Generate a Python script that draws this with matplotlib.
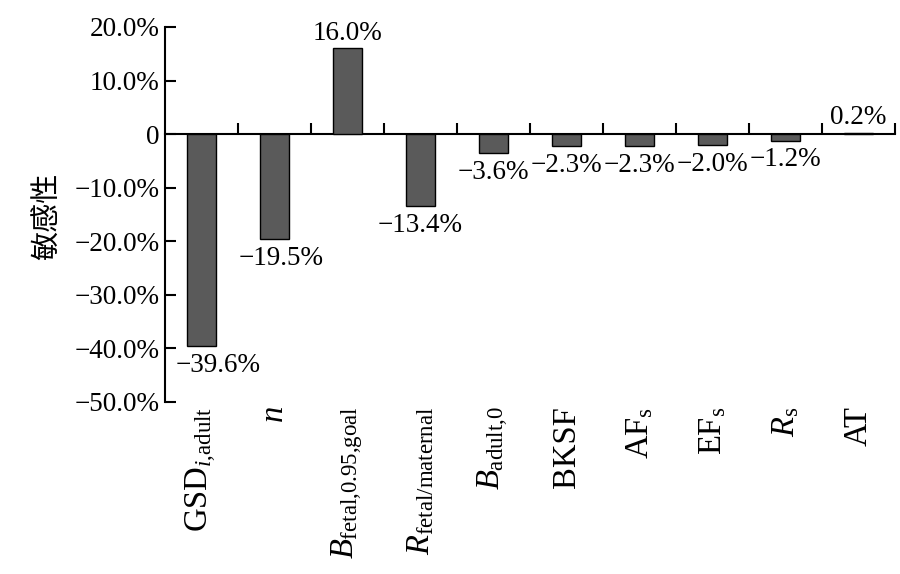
import matplotlib
matplotlib.use("Agg")
import matplotlib.pyplot as plt
from matplotlib.ticker import FixedLocator, FixedFormatter

categories = [r'$\mathrm{GSD}_{i{,}\mathrm{adult}}$', r'$n$', r'$B_{\mathrm{fetal{,}0.95{,}goal}}$',
              r'$R_{\mathrm{fetal/maternal}}$', r'$B_{\mathrm{adult{,}0}}$', 'BKSF',
              r'$\mathrm{AF}_{\mathrm{s}}$', r'$\mathrm{EF}_{\mathrm{s}}$', r'$R_{\mathrm{s}}$', 'AT']
values = [-39.6, -19.5, 16.0, -13.4, -3.6, -2.3, -2.3, -2.0, -1.2, 0.2]
yticks = [20, 10, 0, -10, -20, -30, -40, -50]
ytick_labels = ['20.0%', '10.0%', '0', '\u221210.0%', '\u221220.0%', '\u221230.0%', '\u221240.0%', '\u221250.0%']
ylabel = '敏感性'

plt.rcParams['font.family'] = ['Liberation Serif', 'DejaVu Serif']
plt.rcParams['mathtext.fontset'] = 'custom'
plt.rcParams['mathtext.rm'] = 'Liberation Serif'
plt.rcParams['mathtext.it'] = 'Liberation Serif:italic'
plt.rcParams['mathtext.bf'] = 'Liberation Serif:bold'

fig = plt.figure(figsize=(9, 5.74), dpi=100)
ax = fig.add_axes([0.1833, 0.2997, 0.8111, 0.6533])

x = list(range(len(values)))
ax.bar(x, values, width=0.4, color='#5a5a5a', edgecolor='black', linewidth=1.0, zorder=3)

ax.set_xlim(-0.5, len(values) - 0.5)
ax.set_ylim(-50, 20)

for s in ['top', 'right']:
    ax.spines[s].set_visible(False)
ax.spines['bottom'].set_position(('data', 0))
ax.spines['left'].set_linewidth(1.5)
ax.spines['bottom'].set_linewidth(1.5)

ax.yaxis.set_major_locator(FixedLocator(yticks))
ax.yaxis.set_major_formatter(FixedFormatter(ytick_labels))
ax.tick_params(axis='y', direction='in', length=8, width=1.5, pad=4, labelsize=19.5)
ax.xaxis.set_major_locator(FixedLocator([i + 0.5 for i in x]))
ax.tick_params(axis='x', direction='in', length=8, width=1.5, labelbottom=False)

# small horizontal nudges (points) for the first labels, as in the original
label_dx = {0: 12, 1: 4.5}
for xi, v in zip(x, values):
    txt = (f'{v:.1f}%').replace('-', '\u2212')
    dx = label_dx.get(xi, 0)
    if v >= 0:
        ax.annotate(txt, (xi, v), xytext=(dx, 2), textcoords='offset points',
                    ha='center', va='bottom', fontsize=19.5)
    else:
        ax.annotate(txt, (xi, v), xytext=(dx, -5), textcoords='offset points',
                    ha='center', va='top', fontsize=19.5)

for xi, lab in zip(x, categories):
    ax.text(xi, -0.012, lab, transform=ax.get_xaxis_transform(), rotation=90,
            ha='center', va='top', fontsize=23.5)

fig.text(48 / 900, 1 - 216 / 574, ylabel, rotation=90, ha='center', va='center',
         fontsize=21, family=['Noto Sans CJK SC', 'DejaVu Sans'])

fig.savefig('out.png', dpi=100)
